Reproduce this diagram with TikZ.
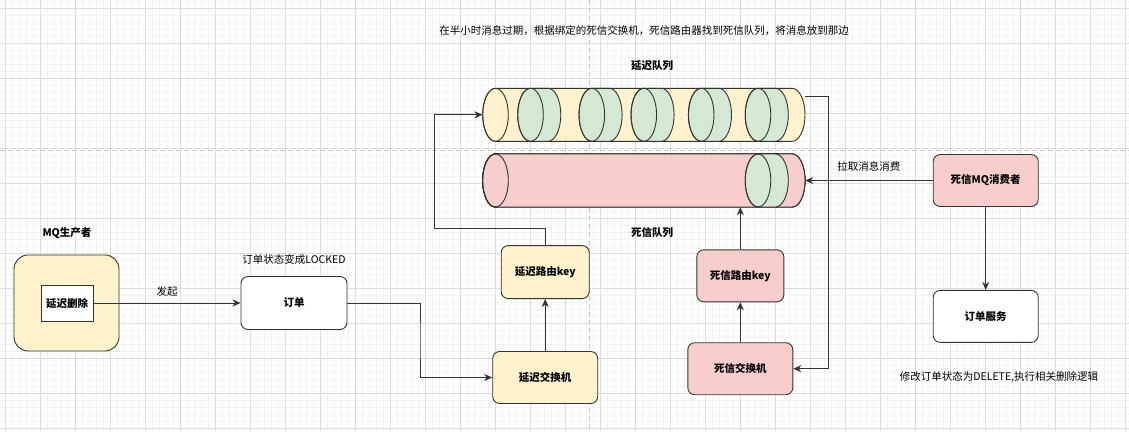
\documentclass[tikz,border=0pt]{standalone}
\usepackage{fontspec}
\setmainfont{Noto Sans CJK SC}
\usepackage{xcolor}
\usepackage{tikz}
\usetikzlibrary{arrows.meta,positioning}

\definecolor{qyellow}{HTML}{FFF2CC}
\definecolor{qred}{HTML}{F8CECC}
\definecolor{qgreen}{HTML}{D5E8D4}
\definecolor{qline}{HTML}{333333}
\definecolor{gridmajor}{HTML}{DCDCDC}
\definecolor{gridminor}{HTML}{F3F3F3}

\tikzset{tubeline/.style={draw=qline, line width=0.9pt}}

% one horizontal tube: left centre x, top y, length, fill
\newcommand{\tubepart}[4]{%
  \filldraw[tubeline, fill=#4] (#1,#2) -- ++(#3,0)
    arc[start angle=-90, end angle=90, x radius=12.8, y radius=26.5]
    -- ++(-#3,0)
    arc[start angle=90, end angle=270, x radius=12.8, y radius=26.5] -- cycle;
  \draw[tubeline] (#1,#2+26.5) ellipse[x radius=12.8, y radius=26.5];}

\begin{document}
\begin{tikzpicture}[
  x=1pt, y=-1pt,
  font=\fontsize{10.5pt}{12pt}\selectfont,
  mqbox/.style={draw=qline, line width=0.9pt, rounded corners=7pt, align=center,
                minimum width=105pt, minimum height=52pt, font=\fontsize{10.5pt}{12pt}\selectfont\bfseries},
  qframe/.style={inner sep=0pt, minimum width=322.3pt, minimum height=53pt},
  farr/.style={-{Stealth[length=8pt, width=7pt, inset=2.5pt]}, draw=qline, line width=0.9pt},
  gline/.style={line width=0.8pt},
  pagebreak/.style={draw=black!22, line width=1.2pt, dash pattern=on 5pt off 3pt}
]
\useasboundingbox[fill=white] (0,0) rectangle (1129,431);

% background grid
\foreach \gx in {5,12,...,1128} \draw[gline, gridminor] (\gx,0) -- (\gx,431);
\foreach \gy in {1.3,8.3,...,431} \draw[gline, gridminor] (0,\gy) -- (1129,\gy);
\foreach \gx in {5,40,...,1125} \draw[gline, gridmajor] (\gx,0) -- (\gx,431);
\foreach \gy in {8.3,43.3,...,428.3} \draw[gline, gridmajor] (0,\gy) -- (1129,\gy);
\draw[pagebreak] (589.5,0) -- (589.5,431);
\draw[pagebreak] (0,150.5) -- (1129,150.5);

% queues
\tubepart{495.5}{88.3}{296.7}{qyellow}
\foreach \dx in {530.5,591.8,643.8,701.2,758} \tubepart{\dx}{88.3}{17.5}{qgreen}
\tubepart{495.5}{154}{296.7}{qred}
\tubepart{758}{154}{17.5}{qgreen}
\node[qframe] (delayq) at (643.85,114.8) {};
\node[qframe] (deadq) at (643.85,180.5) {};

\node (note) at (644,31) {在半小时消息过期，根据绑定的死信交换机，死信路由器找到死信队列，将消息放到那边};
\node[font=\fontsize{10.5pt}{12pt}\selectfont\bfseries] (delayqlbl) at (652,66) {延迟队列};
\node[font=\fontsize{10.5pt}{12pt}\selectfont\bfseries] (deadqlbl) at (652,233) {死信队列};

% producer
\node[font=\fontsize{10.5pt}{12pt}\selectfont\bfseries] (prodlbl) at (67,233) {MQ生产者};
\node[mqbox, fill=qyellow, rounded corners=14pt, minimum width=105pt, minimum height=96pt] (producer) at (66.5,303) {};
\node[draw=qline, line width=0.9pt, fill=white, minimum width=52pt, minimum height=36pt,
      font=\fontsize{10.5pt}{12pt}\selectfont\bfseries] (delbtn) at (67,303) {延迟删除};

\node[mqbox, fill=white, minimum width=106pt, minimum height=53pt] (order) at (294,303) {订单};
\node (orderlbl) at (294,259) {订单状态变成LOCKED};

\node[mqbox, fill=qyellow] (delayx) at (545.2,377.5) {延迟交换机};
\node[mqbox, fill=qyellow, minimum width=88pt, minimum height=53pt, above=52pt of delayx] (delkey) {延迟路由key};
\node[mqbox, fill=qred] (deadx) at (740.3,368.7) {死信交换机};
\node[mqbox, fill=qred, minimum width=87pt, above=40pt of deadx] (deadkey) {死信路由key};

\node[mqbox, fill=qred] (consumer) at (985.7,180.5) {死信MQ消费者};
\node[mqbox, fill=white, below=83pt of consumer] (service) {订单服务};
\node (servicelbl) at (999,377) {修改订单状态为DELETE,执行相关删除逻辑};

% connectors
\coordinate (bendO) at (420,340);
\coordinate (bendL) at (434,228.3);
\coordinate (qout) at (805,96);
\coordinate (bendR) at (828.3,300);
\draw[farr] (delbtn.east) -- node[above=3pt] {发起} (order.west);
\draw[farr] (order.east) -| (bendO) |- (delayx.west);
\draw[farr] (delayx.north) -- (delkey.south);
\draw[farr] (delkey.north) |- (bendL) |- (delayq.west);
\draw[farr] (qout) -| (bendR) |- (deadx.east);
\draw[farr] (deadx.north) -- (deadkey.south);
\draw[farr] (deadkey.north) -- (deadkey.north |- deadq.south);
\draw[farr] (consumer.west) -- node[above=5pt] {拉取消息消费} (consumer.west -| deadq.east);
\draw[farr] (consumer.south) -- (service.north);
\end{tikzpicture}
\end{document}
